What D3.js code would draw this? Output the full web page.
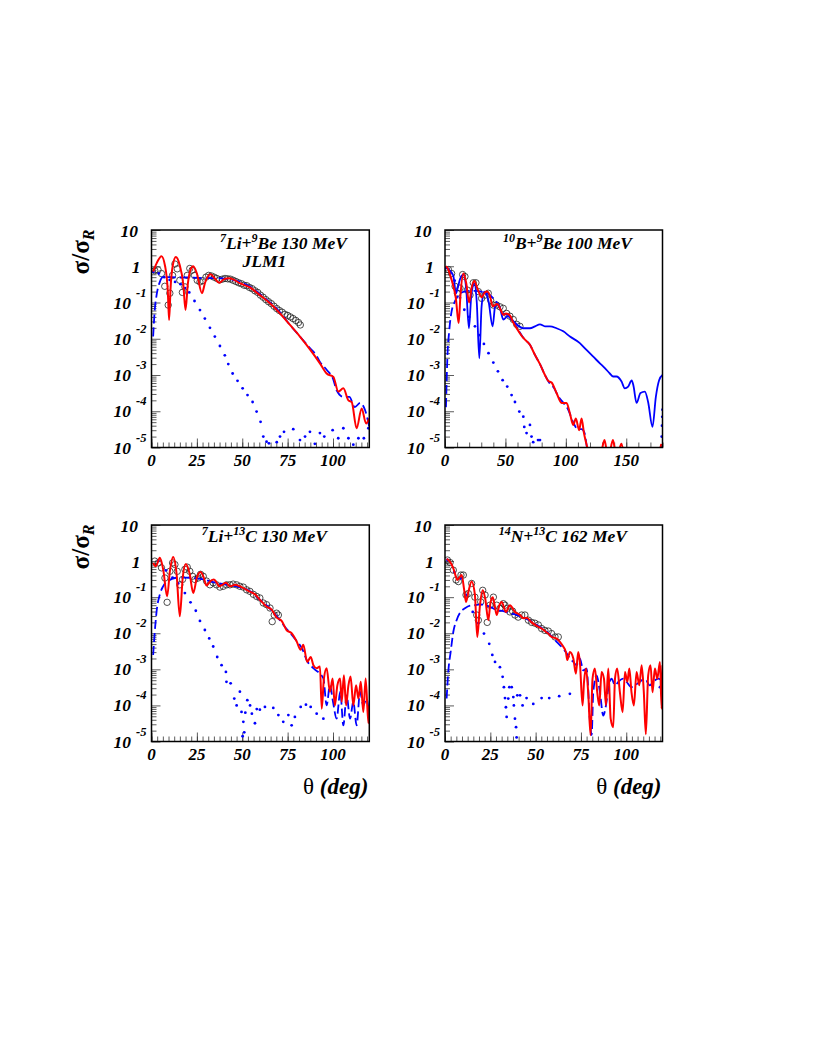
<!DOCTYPE html>
<html>
<head>
<meta charset="utf-8">
<script src="https://cdn.jsdelivr.net/npm/d3@7/dist/d3.min.js"></script>
<style>
  body { margin: 0; background: #fff; }
  svg text { font-family: "Liberation Serif", "Times New Roman", serif; }
</style>
</head>
<body>
<svg id="chart" width="817" height="1058"></svg>
<script>
// ---- tick labels ----
var yDecades = [10, 1, 1e-1, 1e-2, 1e-3, 1e-4, 1e-5];
var xTicks120 = [0, 25, 50, 75, 100];
var xTicks180 = [0, 50, 100, 150];

// ---- 7Li + 9Be 130 MeV ----
var p1Red = [[0.9,0.71],[3,1.26],[5.5,1.9],[7.5,1.0],[9,0.2],[9.7,3.3e-2],[10.5,0.25],[11.8,1.1],[13.4,1.8],[15.5,1.1],[17.5,0.32],[18.75,6.2e-2],[20,0.32],[21.5,0.8],[23,1.0],[25,0.63],[27.8,0.18],[29.5,0.35],[32.5,0.6],[35,0.45],[37.3,0.35],[40,0.44],[42.8,0.47],[45.5,0.42],[48.7,0.34],[54.2,0.26],[59.7,0.16],[65.3,9.5e-2],[70.8,5.0e-2],[76.3,2.4e-2],[81.8,1.15e-2],[87.3,5.1e-3],[92.8,2.1e-3],[96.5,1.1e-3],[100.2,8.9e-4],[102.9,3.5e-4],[105.7,4.3e-4],[108.5,2.0e-4],[110.3,1.8e-4],[113,3.4e-5],[115.8,1.2e-4],[118.2,4.6e-5],[120,6.3e-5]];
var p1Dash = [[0.9,1.15e-2],[1.8,6.3e-2],[2.8,0.16],[4.6,0.37],[6.4,0.51],[10,0.5],[15,0.49],[20,0.49],[25,0.48],[30,0.47],[35,0.47],[41,0.45],[48.7,0.37],[54,0.28],[59.7,0.17],[65.3,0.1],[70.6,5.5e-2],[76,2.5e-2],[81.8,1.15e-2],[87.3,5.5e-3],[90.8,3.5e-3],[92.8,2.3e-3],[96.5,1.4e-3],[100,7.9e-4],[102,3.8e-4],[105.7,2.5e-4],[109,2.5e-4],[112,1.3e-4],[115,1.7e-4],[117.6,1.1e-4],[120,3.7e-5]];
var p1Dot = [[1,0.7],[4,0.63],[7,0.5],[10,0.42],[13,0.37],[16,0.32],[18.5,0.25],[20.8,0.19],[23.7,0.11],[26.7,6.2e-2],[29.4,3.6e-2],[32.2,2.0e-2],[34.9,1.15e-2],[37.7,6.3e-3],[40.4,3.5e-3],[42.3,2.0e-3],[44.7,1.1e-3],[47.4,6.9e-4],[50.2,4.3e-4],[52.9,2.8e-4],[55.7,1.8e-4],[57.9,9.8e-5],[60.1,5.1e-5],[61.6,2.0e-5],[63.4,1.45e-5],[64.7,1.3e-5],[69,1.4e-5],[70.8,2.0e-5],[73,2.7e-5],[78.1,3.2e-5],[81.8,1.6e-5],[84.6,2.0e-5],[87.3,2.7e-5],[90,1.26e-5],[92.8,2.5e-5],[95.2,2.0e-5],[99.8,3.0e-5],[102.9,1.8e-5],[105.7,3.4e-5],[108.5,1.8e-5],[111.2,1.2e-5],[114,1.8e-5],[117,1.8e-5],[119.5,3.4e-5]];
var p1Data = [[1.8,0.76],[3.6,0.79],[5.5,0.63],[7.3,0.28],[9.2,8.5e-2],[10.1,0.18],[11.6,0.56],[12.9,1.15],[14.2,0.85],[15.6,0.41],[17,0.19],[18.4,0.27],[19.7,0.56],[21.1,0.87],[22.4,0.78],[23.7,0.56],[25.2,0.41],[26.7,0.37],[28.2,0.4],[30,0.5],[31.5,0.56],[33,0.54],[34.5,0.5],[36,0.46],[37.5,0.42],[39,0.44],[40.5,0.46],[42,0.45],[43.5,0.44],[45,0.41],[46.5,0.38],[48,0.35],[49.5,0.33],[51,0.3],[52.5,0.29],[54,0.26],[55.5,0.24],[57,0.21],[58.5,0.19],[60,0.16],[61.5,0.14],[63,0.12],[64.5,0.105],[66,9.3e-2],[67.5,7.9e-2],[69,6.8e-2],[70.5,6.0e-2],[72,5.4e-2],[73.5,4.7e-2],[75,4.4e-2],[76.5,4.0e-2],[78,3.6e-2],[79.5,3.2e-2],[81,2.8e-2],[82,2.4e-2]];

// ---- 10B + 9Be 100 MeV ----
var p2Red = [[0.8,1.0],[2.8,0.81],[4.1,0.59],[6.5,0.32],[9,0.13],[11.3,2.7e-2],[12.8,0.16],[15.2,0.63],[17.5,0.35],[20,0.1],[22,0.25],[24.3,0.39],[26.7,0.25],[30.3,0.14],[33,0.19],[35,0.2],[37.5,0.14],[39.4,7.9e-2],[43.3,9.1e-2],[46,6.3e-2],[48.2,4.6e-2],[50.5,5.0e-2],[53.7,4.4e-2],[56.5,2.8e-2],[59.3,1.95e-2],[64.8,1.05e-2],[70.3,6.8e-3],[74.4,3.6e-3],[78.6,2.0e-3],[82.7,1.0e-3],[85.4,6.9e-4],[88.2,6.2e-4],[92.3,3.2e-4],[96.5,1.7e-4],[100.6,1.7e-4],[103.4,8.7e-5],[106.1,4.2e-5],[108.3,6.3e-5],[111,3.0e-5],[113,6.3e-5],[115,2.5e-5],[117,1.26e-5],[120,5e-6],[125,2.5e-6],[129,6.3e-6],[132,1.6e-5],[135,5e-6],[139,1.6e-5],[142,5e-6],[146,1.26e-5],[150,3e-6],[160,2.5e-6],[170,3e-6],[176,5e-6],[179,1.26e-5]];
var p2Blue = [[0.8,0.95],[3.5,0.79],[6.9,0.54],[9.1,0.18],[10.5,0.25],[12.5,0.45],[15.2,0.59],[17.5,0.25],[19.8,1.95e-2],[21.8,0.16],[24.3,0.33],[26.3,0.1],[28.4,2.9e-3],[30.3,7.9e-2],[32.5,0.2],[36,0.11],[39.4,2.2e-2],[41.5,7.9e-2],[43.5,9.1e-2],[46,6.0e-2],[48.2,3.4e-2],[52,4.2e-2],[55,3.4e-2],[59.3,2.5e-2],[64.8,1.95e-2],[70.3,1.95e-2],[74.5,2.2e-2],[78.6,2.5e-2],[82.7,2.2e-2],[86.8,2.2e-2],[92.3,1.95e-2],[97.9,1.6e-2],[103.4,1.15e-2],[111.6,7.6e-3],[117.1,4.9e-3],[122.7,3.2e-3],[128.2,2.1e-3],[132.3,1.55e-3],[136.4,1.1e-3],[139.2,9.1e-4],[141.9,9.1e-4],[146.1,6.6e-4],[148.8,4.3e-4],[151.6,4.8e-4],[154.5,7.1e-4],[156,5.0e-4],[158.5,1.7e-4],[161.8,3.2e-4],[165.4,3.5e-4],[168.1,1.8e-4],[171.7,3.7e-5],[174.5,2.5e-4],[177.2,7.2e-4],[180,1.0e-3]];
var p2Dash = [[0.8,1.3e-4],[1.9,2.6e-3],[3.6,1.8e-2],[5.5,5.8e-2],[7.7,9.8e-2],[10,0.14],[13,0.18],[16,0.2],[20,0.21],[25,0.21],[30,0.2],[35,0.18],[40,0.13],[44,8.9e-2],[48.2,5.0e-2],[53,4.5e-2],[57,2.8e-2],[60,1.9e-2],[65,1.05e-2],[70.3,6.8e-3],[74.4,3.6e-3],[78.6,2.0e-3],[82.7,1.0e-3],[86,6.3e-4],[90,4.5e-4],[94,2.5e-4],[98,1.7e-4],[102,1.1e-4],[106,5.0e-5],[110,3.2e-5],[113,3.2e-5],[115.5,2.5e-5],[117.5,1.0e-5],[120,4e-6]];
var p2Dot = [[1,0.9],[4.5,0.63],[8,0.4],[12.4,0.135],[16,6.3e-2],[20,4.0e-2],[24.8,2.2e-2],[28.5,1.26e-2],[32.2,7.2e-3],[36,4.0e-3],[40,2.2e-3],[43.8,1.26e-3],[47.7,7.2e-4],[51.5,4.8e-4],[55.1,2.8e-4],[57.9,1.8e-4],[61.5,9.8e-5],[64.8,7.1e-5],[65.6,3.7e-5],[67.5,2.5e-5],[70.3,4.2e-5],[71.6,2.0e-5],[73,1.4e-5],[77,1.6e-5],[78.6,1.6e-5],[178.8,1.0e-5],[179.3,2.0e-5],[179.6,4.0e-5],[179.8,7.0e-5],[180,1.1e-4]];
var p2Data = [[2.8,0.81],[5.5,0.63],[8.3,0.28],[10.2,0.18],[12.4,0.25],[14.6,0.59],[16.5,0.52],[18.5,0.22],[20.7,0.16],[23.4,0.35],[25.6,0.35],[27.6,0.2],[30.3,0.13],[33.1,0.16],[35.8,0.18],[37.8,0.115],[40,8.5e-2],[42.7,8.5e-2],[45.5,7.6e-2],[48.2,6.9e-2],[51,5.0e-2],[53.7,4.2e-2],[56.5,3.4e-2],[59.3,2.5e-2],[62,2.2e-2]];

// ---- 7Li + 13C 130 MeV ----
var p3Red = [[0.9,0.89],[2.4,0.72],[4.6,1.23],[6.5,0.56],[8.6,0.105],[10.2,0.56],[11.9,1.29],[13.8,0.45],[15.6,2.95e-2],[17.2,0.35],[18.9,0.83],[21,0.45],[23,0.13],[25,0.35],[27,0.5],[28.8,0.35],[30.3,0.21],[32.5,0.28],[34.4,0.31],[36,0.25],[37.3,0.2],[39,0.22],[41,0.25],[43.2,0.2],[46,0.22],[49.6,0.19],[53.3,0.15],[57,0.12],[59.7,8.5e-2],[63.4,5.5e-2],[66.2,4.5e-2],[68.9,2.75e-2],[71.7,2.2e-2],[74.4,1.23e-2],[77.2,1.0e-2],[80,5.9e-3],[82.2,3.5e-3],[83.6,4.8e-3],[85.8,1.6e-3],[87.7,2.2e-3],[89.2,1.3e-3],[91,1.07e-3],[92.8,1.2e-3],[93.8,8.1e-5],[95,5.6e-4],[96.5,1.07e-3],[98.3,2.4e-4],[99.8,5.6e-4],[101,1.0e-4],[102.4,3.6e-4],[103.9,5.6e-4],[104.8,1.26e-4],[106,6.9e-4],[107.2,1.0e-4],[108.5,3.6e-4],[109.7,6.3e-4],[111.2,1.0e-4],[112.7,3.6e-4],[114,1.55e-4],[115.3,4.5e-4],[116.7,6.6e-5],[118,5.6e-4],[119.5,3.2e-5],[120,1.0e-4]];
var p3Dash = [[0.9,2.5e-3],[1.8,1.1e-2],[2.8,4.0e-2],[4.6,0.12],[6.4,0.2],[9.2,0.28],[12.9,0.34],[17.5,0.35],[23,0.34],[28.5,0.31],[34,0.26],[39.5,0.23],[45,0.21],[50,0.18],[55,0.14],[59.7,8.5e-2],[64,5.6e-2],[68.9,3.0e-2],[74,1.4e-2],[78,8.1e-3],[83.6,3.2e-3],[85.5,1.8e-3],[89.2,1.07e-3],[94.7,5.6e-4],[96.5,1.0e-4],[98.3,3.6e-4],[100,1.26e-4],[102,4.3e-5],[104,2.4e-4],[105.7,2.8e-5],[107.5,1.9e-4],[109.4,4.3e-5],[111.2,1.26e-4],[113,2.8e-5],[114.9,2.4e-4],[116.7,1.0e-4],[118.5,1.55e-4],[120,4.3e-5]];
var p3Dot = [[3.7,1.0],[7.9,0.55],[11.6,0.35],[14.7,0.24],[18.4,0.13],[21.5,7.2e-2],[24.4,4.2e-2],[26.7,2.2e-2],[29.4,1.23e-2],[31.8,7.2e-3],[34,4.3e-3],[36.2,2.2e-3],[38.6,1.3e-3],[41,8.5e-4],[41.3,4.5e-4],[43.6,4.1e-4],[45.6,1.55e-4],[46.9,1.0e-4],[48.7,2.4e-4],[49.6,6.6e-5],[50.6,3.5e-5],[51.1,1.8e-5],[50.2,1.4e-5],[51.7,6.3e-5],[52.8,1.4e-4],[54.3,1.0e-4],[55.3,5.9e-5],[57,3.2e-5],[58,7.9e-5],[59.7,7.6e-5],[62.5,9.1e-5],[67.1,8.5e-5],[69.9,5.4e-5],[72.6,3.5e-5],[75.4,5.4e-5],[77.2,2.8e-5],[79,4.8e-5],[82.2,9.1e-5],[85.1,1.05e-4],[87.7,9.1e-5],[91,5.9e-5],[94.7,4.3e-5]];
var p3Data = [[1.8,1.0],[3.7,0.89],[5.5,0.65],[7.4,0.34],[8.6,7.2e-2],[10.1,0.52],[11.6,0.89],[12.9,0.8],[14.2,0.52],[15.6,0.22],[17.1,0.31],[18.4,0.59],[19.7,0.68],[21.1,0.52],[22.6,0.38],[23.9,0.31],[25.7,0.34],[27,0.43],[28.5,0.38],[30.3,0.28],[32.2,0.22],[34,0.25],[35.8,0.22],[37.7,0.19],[39.5,0.2],[41.4,0.22],[43.2,0.22],[45,0.23],[46.9,0.22],[48.7,0.2],[50.6,0.19],[52.4,0.16],[54.2,0.145],[56.1,0.12],[57.9,0.105],[59.7,9.5e-2],[61.6,6.9e-2],[63.4,6.2e-2],[65.3,5.0e-2],[66.5,2.1e-2],[67.6,3.2e-2],[68.9,3.6e-2],[69.9,3.2e-2]];

// ---- 14N + 13C 162 MeV ----
var p4Red = [[0.9,1.15],[2.8,0.95],[4.6,0.63],[6.1,0.36],[6.8,0.3],[9.2,0.41],[10.5,0.17],[11.6,7.4e-2],[12.9,0.14],[14.7,0.27],[16.5,0.115],[17.8,7.9e-3],[19.3,6.0e-2],[20.8,0.155],[22.2,9.1e-2],[23.9,2.3e-2],[25,6.6e-2],[26.3,0.1],[27.4,6.0e-2],[28.5,3.2e-2],[30,6.0e-2],[31.3,7.4e-2],[33.6,3.9e-2],[35.8,6.0e-2],[38.6,3.9e-2],[41.4,3.2e-2],[43.2,2.6e-2],[45,2.7e-2],[47.8,2.0e-2],[50.6,1.6e-2],[53.3,1.35e-2],[55.1,1.15e-2],[57,9.8e-3],[58.8,7.9e-3],[61.6,7.1e-3],[63.4,5.8e-3],[65.3,4.2e-3],[66.7,3.0e-3],[67.5,1.8e-3],[68.9,3.0e-3],[70.8,2.0e-3],[72.2,7.6e-4],[73.5,3.0e-3],[74.4,1.6e-3],[75.9,1.0e-4],[76.7,4.5e-4],[77.8,1.05e-3],[79,2.3e-4],[80.3,1.5e-5],[81.4,5.5e-4],[82.7,1.05e-3],[84,2.3e-4],[85.1,1.0e-4],[86.4,8.5e-4],[87.7,5.5e-4],[88.8,1.0e-4],[90.1,1.05e-3],[91.4,4.3e-5],[92.8,2.5e-5],[93.8,5.5e-4],[95,1.05e-3],[96.5,2.3e-4],[98,6.5e-5],[99.3,8.5e-4],[100.6,4.5e-4],[101.7,1.05e-3],[102.9,2.3e-4],[104.2,1.0e-4],[105.7,8.5e-4],[107.2,3.6e-4],[108.5,1.3e-3],[109.7,2.3e-4],[110.8,1.6e-5],[112.1,6.8e-4],[113.4,1.3e-3],[114.5,2.3e-4],[115.8,1.05e-3],[117.1,5.5e-4],[118.6,1.6e-3],[119.5,8.1e-5],[120,1.3e-3]];
var p4Dash = [[0.9,1.55e-4],[1.8,8.5e-4],[3.1,3.0e-3],[4.6,1.1e-2],[6.4,2.3e-2],[8.3,3.7e-2],[11,4.9e-2],[13.8,5.8e-2],[16.5,6.0e-2],[19.3,6.3e-2],[22.1,6.0e-2],[24.8,5.4e-2],[28.5,4.4e-2],[32.2,4.1e-2],[35.8,3.6e-2],[39.5,3.2e-2],[45,2.5e-2],[50.6,1.7e-2],[56.1,1.1e-2],[61.6,5.8e-3],[65.3,3.7e-3],[67.1,2.8e-3],[68.9,2.0e-3],[70.8,1.6e-3],[72.6,1.3e-3],[74.4,2.0e-3],[76.3,9.3e-4],[78.1,1.05e-3],[80,3.5e-5],[80.9,1.5e-5],[81.8,2.3e-4],[83.6,6.8e-4],[85.5,2.3e-4],[87.3,5.2e-5],[88.8,1.0e-4],[90.1,2.9e-4],[91.9,5.5e-4],[93.8,3.6e-4],[95.6,4.5e-4],[98.3,5.5e-4],[100.2,4.5e-4],[102.9,3.2e-4],[104.8,3.6e-4],[107.5,4.5e-4],[110.3,5.5e-4],[113,3.6e-4],[114.9,4.5e-4],[117.6,5.5e-4],[120,4.9e-4]];
var p4Dot = [[1.3,1.07],[5.1,0.5],[8.8,0.33],[11.9,0.115],[15.3,3.9e-2],[18.4,1.9e-2],[21.5,9.8e-3],[24.4,5.1e-3],[26.1,2.5e-3],[27.6,1.6e-3],[30.3,1.15e-3],[31.8,6.2e-4],[32.5,3.2e-4],[33.1,1.6e-4],[33.6,8.9e-5],[34,4.8e-5],[34.9,1.55e-4],[35.5,3.2e-4],[36.8,3.2e-4],[37.7,1.7e-4],[38,1.0e-4],[38.6,4.3e-5],[39.2,2.5e-5],[39.5,1.3e-5],[39.9,1.9e-4],[41.4,1.9e-4],[42.8,1.0e-4],[45,1.6e-4],[48.7,1.1e-4],[53.3,1.6e-4],[57.5,1.6e-4],[63,1.8e-4],[68.9,2.1e-4],[118.6,3.2e-4]];
var p4Data = [[1.3,1.07],[2.8,0.91],[4.6,0.56],[6.1,0.3],[7.4,0.27],[8.8,0.41],[10.1,0.41],[11.6,0.115],[12.9,0.126],[14.7,0.24],[16.5,0.1],[17.5,3.2e-2],[18.4,2.3e-2],[19.7,7.4e-2],[20.8,0.155],[22.1,0.115],[23.3,2.0e-2],[24.8,6.0e-2],[26.7,0.1],[28.5,6.0e-2],[30.3,4.9e-2],[32.2,6.6e-2],[33.1,6.0e-2],[34.4,4.9e-2],[35.8,3.9e-2],[37.3,4.1e-2],[38.6,3.2e-2],[40.4,2.8e-2],[42.3,3.2e-2],[44.1,3.2e-2],[46,2.3e-2],[47.8,2.0e-2],[49.6,1.9e-2],[51.5,1.7e-2],[53.3,1.35e-2],[55.1,1.2e-2],[57,1.15e-2],[58.8,9.8e-3],[60.7,7.9e-3],[62.5,7.9e-3]];

var panels = [
  { left: 151.5, top: 230, right: 369.3, bottom: 447.5, xmax: 120, xticks: xTicks120, xminor: 25 / 8,
    red: p1Red, blue: null, dash: p1Dash, dot: p1Dot, data: p1Data,
    label: [["7", 1], ["Li+", 0], ["9", 1], ["Be 130 MeV", 0]], labelX: 347, labelY: 248.5, extra: "JLM1", title: false },
  { left: 445, top: 230, right: 662.5, bottom: 447.5, xmax: 180, xticks: xTicks180, xminor: 10,
    red: p2Red, blue: p2Blue, dash: p2Dash, dot: p2Dot, data: p2Data,
    label: [["10", 1], ["B+", 0], ["9", 1], ["Be 100 MeV", 0]], labelX: 632, labelY: 248.5, extra: null, title: false },
  { left: 151.5, top: 525, right: 369.3, bottom: 741.5, xmax: 120, xticks: xTicks120, xminor: 25 / 8,
    red: p3Red, blue: null, dash: p3Dash, dot: p3Dot, data: p3Data,
    label: [["7", 1], ["Li+", 0], ["13", 1], ["C 130 MeV", 0]], labelX: 327, labelY: 542.3, extra: null, title: true },
  { left: 445, top: 525, right: 662.5, bottom: 741.5, xmax: 120, xticks: xTicks120, xminor: 25 / 8,
    red: p4Red, blue: null, dash: p4Dash, dot: p4Dot, data: p4Data,
    label: [["14", 1], ["N+", 0], ["13", 1], ["C 162 MeV", 0]], labelX: 627, labelY: 541.7, extra: null, title: true }
];

var svg = d3.select("#chart");
var defs = svg.append("defs");

panels.forEach(function (p, i) {
  var x = d3.scaleLinear().domain([0, p.xmax]).range([p.left, p.right]);
  var y = d3.scaleLog().domain([1e-5, 10]).range([p.bottom, p.top]);
  var g = svg.append("g");

  defs.append("clipPath").attr("id", "clip" + i)
    .append("rect").attr("x", p.left).attr("y", p.top)
    .attr("width", p.right - p.left).attr("height", p.bottom - p.top);

  // minor / major ticks, drawn inside the frame
  var minorY = [];
  for (var e = -5; e < 1; e++) for (var m = 2; m < 10; m++) minorY.push(m * Math.pow(10, e));
  var minorX = d3.range(0, p.xmax + 0.001, p.xminor);

  function tickAxis(axis) {
    return function (sel) {
      sel.call(axis);
      sel.select(".domain").remove();
      sel.selectAll("line").attr("stroke", "#333").attr("stroke-width", 0.8);
    };
  }
  g.append("g").attr("transform", "translate(" + p.left + ",0)")
    .call(tickAxis(d3.axisLeft(y).tickValues(minorY).tickSize(-5).tickFormat("")));
  g.append("g").attr("transform", "translate(" + p.left + ",0)")
    .call(tickAxis(d3.axisLeft(y).tickValues(yDecades).tickSize(-9).tickFormat("")));
  g.append("g").attr("transform", "translate(0," + p.bottom + ")")
    .call(tickAxis(d3.axisBottom(x).tickValues(minorX).tickSize(-5).tickFormat("")));
  g.append("g").attr("transform", "translate(0," + p.bottom + ")")
    .call(tickAxis(d3.axisBottom(x).tickValues(p.xticks).tickSize(-9).tickFormat("")));

  // y tick labels
  yDecades.forEach(function (v) {
    var ty = y(v), ex = Math.round(Math.log10(v));
    if (ex >= 0) {
      g.append("text").attr("x", p.left - (ex === 1 ? 13.5 : 11)).attr("y", ty + 7)
        .attr("text-anchor", "end").attr("font-size", 17.5)
        .attr("font-weight", "bold").attr("font-style", "italic").text(v === 10 ? "10" : "1");
    } else {
      g.append("text").attr("x", p.left - 20.5).attr("y", ty + 6)
        .attr("text-anchor", "end").attr("font-size", 17.5)
        .attr("font-weight", "bold").attr("font-style", "italic").text("10");
      g.append("text").attr("x", p.left - 5).attr("y", ty - 6)
        .attr("text-anchor", "end").attr("font-size", 12.5)
        .attr("font-weight", "bold").attr("font-style", "italic").text(String(ex));
    }
  });

  // x tick labels
  p.xticks.forEach(function (v) {
    g.append("text").attr("x", x(v)).attr("y", p.bottom + 18.5)
      .attr("text-anchor", "middle").attr("font-size", 17)
      .attr("font-weight", "bold").attr("font-style", "italic").text(v);
  });

  var plot = g.append("g").attr("clip-path", "url(#clip" + i + ")");
  var line = d3.line().x(function (d) { return x(d[0]); }).y(function (d) { return y(d[1]); })
    .curve(d3.curveMonotoneX);

  plot.selectAll("circle.data").data(p.data).enter().append("circle")
    .attr("class", "data").attr("cx", function (d) { return x(d[0]); }).attr("cy", function (d) { return y(d[1]); })
    .attr("r", 3.2).attr("fill", "none").attr("stroke", "#222").attr("stroke-width", 0.8);

  plot.selectAll("circle.dot").data(p.dot).enter().append("circle")
    .attr("class", "dot").attr("cx", function (d) { return x(d[0]); }).attr("cy", function (d) { return y(d[1]); })
    .attr("r", 1.4).attr("fill", "#0000ff");

  plot.append("path").datum(p.dash).attr("d", line).attr("fill", "none")
    .attr("stroke", "#0000ff").attr("stroke-width", 1.8).attr("stroke-dasharray", "9,4");

  if (p.blue) {
    plot.append("path").datum(p.blue).attr("d", line).attr("fill", "none")
      .attr("stroke", "#0000ff").attr("stroke-width", 1.8);
  }

  plot.append("path").datum(p.red).attr("d", line).attr("fill", "none")
    .attr("stroke", "#ff0000").attr("stroke-width", 2);

  // frame
  g.append("rect").attr("x", p.left).attr("y", p.top)
    .attr("width", p.right - p.left).attr("height", p.bottom - p.top)
    .attr("fill", "none").attr("stroke", "#000").attr("stroke-width", 1.5);

  // reaction label
  var lab = g.append("text").attr("x", p.labelX).attr("y", p.labelY)
    .attr("text-anchor", "end").attr("font-size", 17.5)
    .attr("font-weight", "bold").attr("font-style", "italic");
  p.label.forEach(function (part) {
    if (part[1]) {
      lab.append("tspan").attr("font-size", 12).attr("dy", -7).text(part[0]);
    } else {
      lab.append("tspan").attr("dy", 7).text(part[0]);
    }
  });
  lab.select("tspan").attr("dy", -7);
  if (p.extra) {
    g.append("text").attr("x", p.left + 91).attr("y", p.labelY + 18.5)
      .attr("font-size", 17.5).attr("font-weight", "bold").attr("font-style", "italic").text(p.extra);
  }

  // y title, left column only
  if (i % 2 === 0) {
    var yt = g.append("text").attr("transform", "translate(89," + (p.top + 22) + ") rotate(-90)")
      .attr("text-anchor", "middle").attr("font-size", 25).attr("font-weight", "bold");
    yt.append("tspan").text("σ/σ");
    yt.append("tspan").attr("font-size", 16).attr("font-style", "italic").attr("dy", 5).text("R");
  }

  // x title, bottom row only
  if (p.title) {
    var xt = g.append("text").attr("x", p.right - 1).attr("y", 794)
      .attr("text-anchor", "end").attr("font-size", 23);
    xt.append("tspan").text("θ ");
    xt.append("tspan").attr("font-weight", "bold").attr("font-style", "italic").text("(deg)");
  }
});
</script>
</body>
</html>
